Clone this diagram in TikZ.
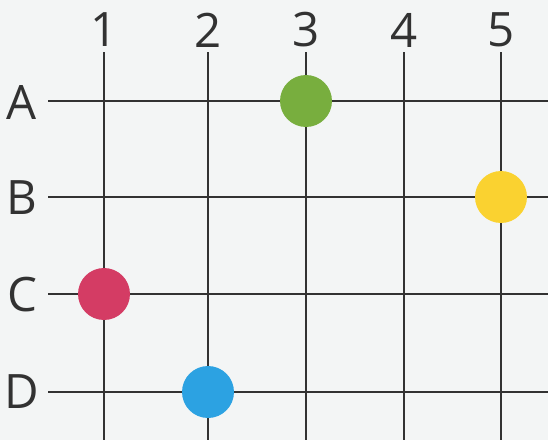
\documentclass[tikz,border=0pt]{standalone}
\usepackage{fontspec}
\setmainfont{Open Sans}
\usetikzlibrary{positioning,calc}
\definecolor{PaperGray}{RGB}{243,245,245}
\definecolor{LineGray}{RGB}{50,50,50}
\definecolor{DotGreen}{RGB}{120,174,62}
\definecolor{DotYellow}{RGB}{250,210,48}
\definecolor{DotPink}{RGB}{212,60,100}
\definecolor{DotBlue}{RGB}{44,162,226}
\tikzset{
  lbl/.style={font=\fontsize{27}{27}\selectfont,text=LineGray,inner sep=0pt},
  gridline/.style={draw=LineGray,line width=0.75pt},
  dot/.style={circle,inner sep=0pt,minimum size=1.04cm},
}

\begin{document}
\begin{tikzpicture}[x=0.02cm,y=-0.02cm]
\fill[PaperGray] (0,0) rectangle (548,440);
\useasboundingbox (0,0) rectangle (548,440);
\node[lbl] (n1) at (104,30) {1};
\node[lbl] (n2) at (208,30) {2};
\node[lbl] (n3) at (306,30) {3};
\node[lbl] (n4) at (404,30) {4};
\node[lbl] (n5) at (501,30) {5};
\node[lbl] (rA) at (22,102) {A};
\node[lbl] (rB) at (22,198) {B};
\node[lbl] (rC) at (22,295) {C};
\node[lbl] (rD) at (22,392) {D};
\coordinate (t1) at (104,52);
\coordinate (t2) at (208,52);
\coordinate (t3) at (306,52);
\coordinate (t4) at (404,52);
\coordinate (t5) at (501,52);
\coordinate (b1) at (104,440);
\coordinate (b2) at (208,440);
\coordinate (b3) at (306,440);
\coordinate (b4) at (404,440);
\coordinate (b5) at (501,440);
\coordinate (lA) at (48,101);
\coordinate (lB) at (48,197);
\coordinate (lC) at (48,294);
\coordinate (lD) at (48,392);
\coordinate (eA) at (548,101);
\coordinate (eB) at (548,197);
\coordinate (eC) at (548,294);
\coordinate (eD) at (548,392);
\draw[gridline] (t1)--(b1);
\draw[gridline] (t2)--(b2);
\draw[gridline] (t3)--(b3);
\draw[gridline] (t4)--(b4);
\draw[gridline] (t5)--(b5);
\draw[gridline] (lA)--(eA);
\draw[gridline] (lB)--(eB);
\draw[gridline] (lC)--(eC);
\draw[gridline] (lD)--(eD);
\node[dot,fill=DotGreen] (pA3) at (306,101) {};
\node[dot,fill=DotYellow] (pB5) at (501,197) {};
\node[dot,fill=DotPink] (pC1) at (104,294) {};
\node[dot,fill=DotBlue] (pD2) at (208,392) {};
\end{tikzpicture}
\end{document}
